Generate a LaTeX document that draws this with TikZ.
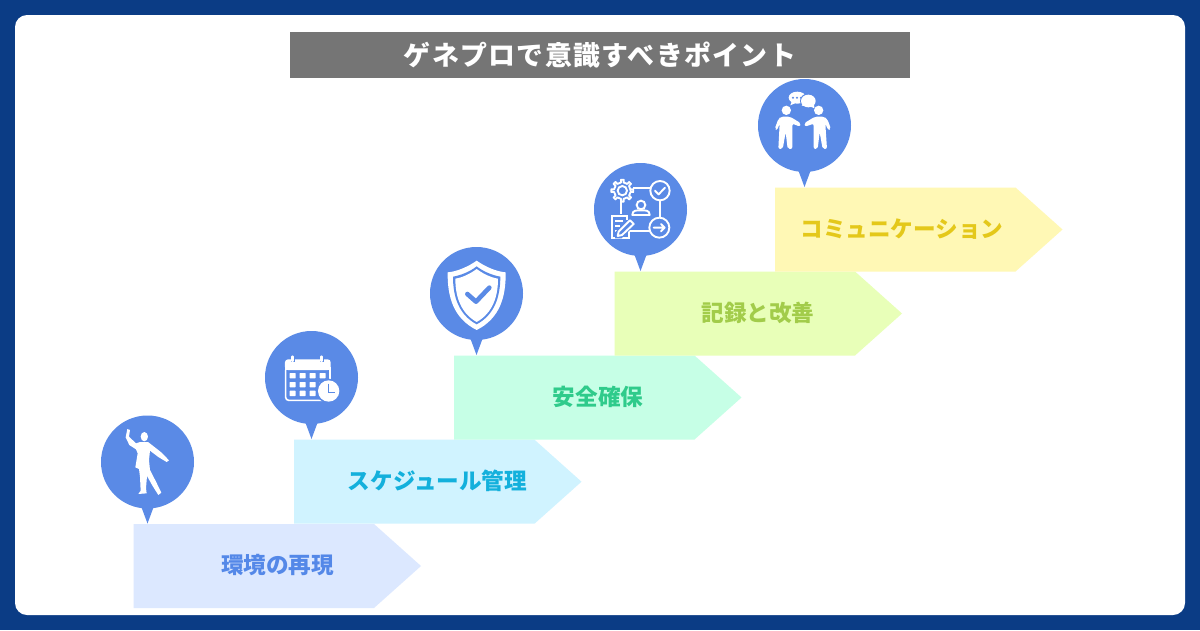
\documentclass[tikz,border=0pt]{standalone}
\usepackage{fontspec}
\newfontfamily\cjk{Noto Sans CJK JP}
\newfontfamily\cjktitle{Noto Sans CJK JP}[LetterSpace=5]
\definecolor{bgblue}{HTML}{0B3C85}
\definecolor{pinblue}{HTML}{5A8AE6}
\definecolor{titlegray}{HTML}{757575}
\definecolor{aA}{HTML}{DCE8FF}\definecolor{tA}{HTML}{5488E8}
\definecolor{aB}{HTML}{D0F3FF}\definecolor{tB}{HTML}{13B0DC}
\definecolor{aC}{HTML}{C6FFE6}\definecolor{tC}{HTML}{2FCB8B}
\definecolor{aD}{HTML}{E8FFB8}\definecolor{tD}{HTML}{A2CC4A}
\definecolor{aE}{HTML}{FFF8B5}\definecolor{tE}{HTML}{E4C81A}
\tikzset{
  steplabel/.style={font=\cjk\bfseries\fontsize{22.6}{25}\selectfont,inner sep=0pt,anchor=center},
  titlebar/.style={fill=titlegray,text=white,minimum width=620pt,minimum height=46pt,inner sep=0pt,font=\cjktitle\bfseries\fontsize{26.9}{32}\selectfont},
  iconline/.style={draw=white,line width=1.9pt,fill=none},
  zoomed/.style={x=0.3333pt,y=-0.3333pt},
}
\newcommand{\stepshape}[3]{% x, top y, colour
  \fill[#3] (#1,#2) -- ++(240.5,0) -- ++(47,42) -- ++(-47,42) -- ++(-240.5,0) -- cycle;}
\newcommand{\pinshape}[2]{% cx, cy
  \fill[pinblue] (#1,#2) circle[radius=46.5];
  \fill[pinblue] (#1-6.5,#2+44) -- (#1+6.5,#2+44) -- (#1,#2+61.5) -- cycle;}
\begin{document}
\begin{tikzpicture}[x=1pt,y=-1pt]
\useasboundingbox (0,0) rectangle (1200,630);
\fill[bgblue] (0,0) rectangle (1200,630);
\fill[white,rounded corners=12pt] (15,15) rectangle (1185,615);
\node[titlebar] (title) at (600,55) {ゲネプロで意識すべきポイント};

\stepshape{133.5}{524}{aA}
\stepshape{294}{439.7}{aB}
\stepshape{454}{355.5}{aC}
\stepshape{614.5}{271.5}{aD}
\stepshape{775}{187.5}{aE}
\node[steplabel,text=tA] (s1) at (277.5,565.5) {環境の再現};
\node[steplabel,text=tB] (s2) at (437.5,481) {スケジュール管理};
\node[steplabel,text=tC] (s3) at (598,397) {安全確保};
\node[steplabel,text=tD] (s4) at (758,313) {記録と改善};
\node[steplabel,text=tE] (s5) at (902,229) {コミュニケーション};

\pinshape{147.5}{462}
\pinshape{311.5}{377.5}
\pinshape{476.5}{293.5}
\pinshape{640.5}{209.5}
\pinshape{804.5}{125.5}

% dancer
\begin{scope}[shift={(90,410)},zoomed]
\fill[white] (163,80) ellipse[x radius=11,y radius=14];
\fill[white,line join=round] (112,57) -- (120,60) -- (117,80) -- (138,100) -- (150,96) -- (174,96) -- (187,106) -- (215,128) -- (237,151) -- (230,156) -- (205,141) -- (180,122) -- (177,150) -- (180,180) -- (198,215) -- (214,248) -- (205,255) -- (188,228) -- (171,198) -- (168,235) -- (170,250) -- (145,252) -- (152,242) -- (150,200) -- (147,177) -- (136,172) -- (143,130) -- (138,118) -- (118,105) -- (107,82) -- cycle;
\end{scope}

% calendar
\begin{scope}[shift={(255,325)},zoomed]
\draw[white,line width=1.6pt,rounded corners=3pt] (92,135) -- (92,226) -- (225,226) -- (225,135);
\fill[white,rounded corners=3pt] (90,103) rectangle (227,135);
\fill[white] (90,125) rectangle (227,135);
\draw[pinblue,line width=3.8pt] (113,90) -- (113,112) (200,90) -- (200,112);
\draw[white,line width=2.8pt,line cap=round] (113,95) -- (113,108) (200,95) -- (200,108);
\foreach \cx in {104,134,164,194}
  \foreach \cy in {144,171,197}
    \fill[white,rounded corners=0.5pt] (\cx,\cy) rectangle ++(18,16);
\fill[pinblue] (221,198) circle[radius=37];
\fill[white] (221,198) circle[radius=32];
\draw[pinblue,line width=1.5pt] (221,176) -- (221,202) -- (240,202);
\end{scope}

% shield
\begin{scope}[shift={(420,240)},zoomed]
\fill[white] (170,62) .. controls (195,80) and (230,95) .. (257,97) .. controls (258,170) and (240,235) .. (170,270) .. controls (100,235) and (82,170) .. (83,97) .. controls (110,95) and (145,80) .. (170,62) -- cycle;
\fill[pinblue] (170,79) .. controls (190,95) and (218,106) .. (241,110) .. controls (241,170) and (224,224) .. (170,253) .. controls (116,224) and (99,170) .. (99,110) .. controls (122,106) and (150,95) .. (170,79) -- cycle;
\fill[white] (170,87) .. controls (190,102) and (214,113) .. (234,116) .. controls (234,170) and (218,219) .. (170,246) .. controls (122,219) and (106,170) .. (106,116) .. controls (126,113) and (150,102) .. (170,87) -- cycle;
\draw[pinblue,line width=4.6pt,line cap=round,line join=round] (142,162) -- (168,185) -- (208,143);
\end{scope}

% workflow
\begin{scope}[shift={(580,155)},zoomed]
\draw[iconline] (160,100) -- (210,100) (240,137) -- (240,188) (150,228) -- (208,228) (123,140) -- (123,182);
\draw[iconline] (240,107) circle[radius=29];
\draw[iconline,line cap=round,line join=round] (225,107) -- (236,118) -- (255,98);
\draw[iconline] (238,218) circle[radius=30];
\draw[iconline,line cap=round,line join=round] (221,218) -- (254,218) (243,207) -- (254,218) -- (243,229);
\draw[iconline] (127,107) circle[radius=14];
\draw[iconline,line join=round] (127,107) +(0:25)
  \foreach \a in {0,45,...,315} { -- +(\a-9:25) -- +(\a-7:33) -- +(\a+7:33) -- +(\a+9:25) } -- cycle;
\draw[iconline] (183,150) circle[radius=13];
\draw[iconline,line join=round] (157,180) .. controls (157,165) and (170,166) .. (183,166) .. controls (196,166) and (209,165) .. (209,180) -- cycle;
\fill[pinblue] (90,178) rectangle (150,254);
\draw[iconline] (147,225) -- (147,250) -- (95,250) -- (95,182) -- (142,182) -- (142,195);
\draw[iconline] (105,197) -- (128,197) (105,212) -- (120,212) (105,228) -- (115,228);
\fill[pinblue] (152,188) -- (170,205) -- (125,250) -- (105,250) -- (105,232) -- cycle;
\draw[iconline,line join=round] (150,196) -- (161,207) -- (126,240) -- (113,243) -- (116,230) -- cycle;
\end{scope}

% people talking
\begin{scope}[shift={(745,75)},zoomed]
\fill[white] (124,106) circle[radius=14];
\fill[white] (221,106) circle[radius=14];
\fill[white,rounded corners=2pt] (108,125) -- (135,125) -- (168,145) -- (165,155) -- (142,146) -- (142,222) -- (128,222) -- (122,172) -- (113,222) -- (100,222) -- (104,146) -- (96,166) -- (89,162) -- (100,132) -- cycle;
\fill[white,rounded corners=2pt] (237,125) -- (210,125) -- (177,145) -- (180,155) -- (206,146) -- (206,222) -- (218,222) -- (224,172) -- (233,222) -- (246,222) -- (241,146) -- (250,166) -- (258,162) -- (247,132) -- cycle;
\fill[white] (157,68) ellipse[x radius=26,y radius=18];
\fill[white] (140,80) -- (152,84) -- (136,91) -- cycle;
\foreach \dx in {144,156,168} \fill[pinblue] (\dx,68) circle[radius=3.4];
\fill[pinblue] (190,78) ellipse[x radius=25,y radius=23];
\fill[white] (190,78) ellipse[x radius=22,y radius=19];
\fill[white] (183,70) -- (207,80) -- (208,100) -- (195,94) -- (170,92) -- cycle;
\end{scope}
\end{tikzpicture}
\end{document}
